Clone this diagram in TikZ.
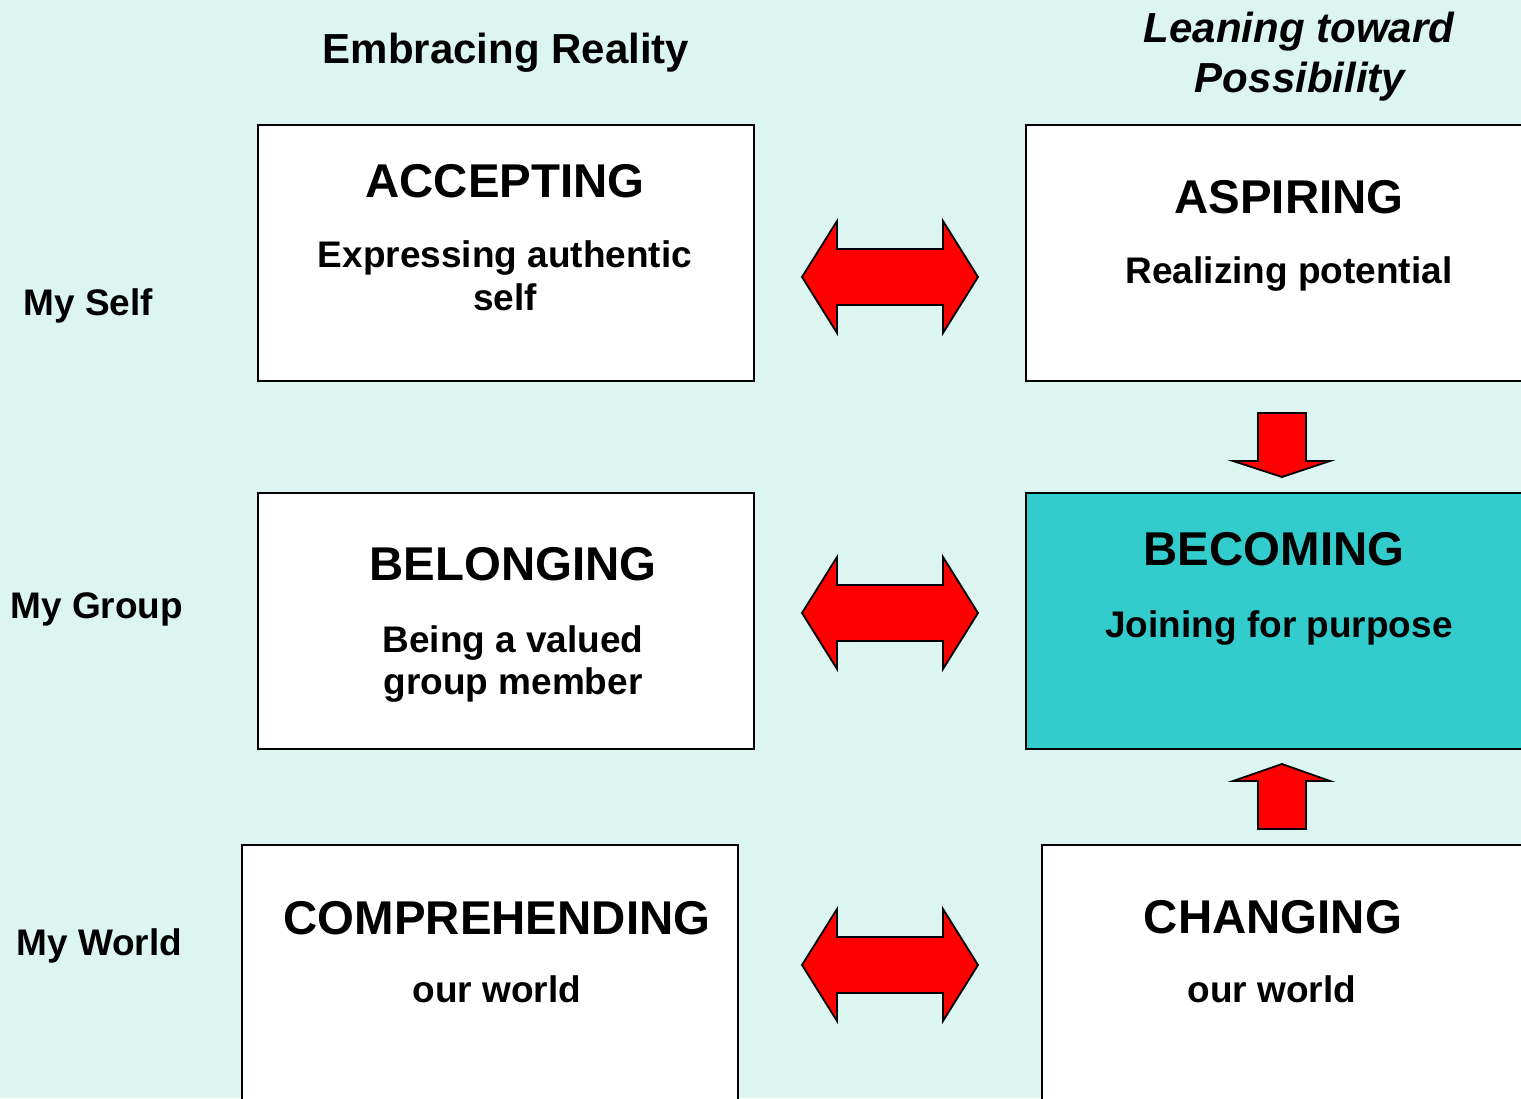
\documentclass[tikz,border=0pt]{standalone}
\usepackage{fontspec}
\setmainfont{Liberation Sans}
\usetikzlibrary{positioning}
\definecolor{bgmint}{RGB}{221,245,240}
\definecolor{tealbox}{RGB}{51,204,204}
\tikzset{
box/.style={ % Frame of each stage
draw,
line width=1pt,
fill=white,
inner sep=0pt,
minimum width=248pt,
minimum height=128pt},
title/.style={font=\fontsize{23.7}{28}\selectfont\bfseries, anchor=base},
sub/.style={font=\fontsize{18.5}{22}\selectfont\bfseries, anchor=base},
rowlabel/.style={font=\fontsize{18.5}{22}\selectfont\bfseries, anchor=base west, inner sep=0pt},
colhead/.style={font=\fontsize{21}{25}\selectfont\bfseries, anchor=base},
bigarrow/.style={ % Red block arrows
draw,
fill=red,
line width=0.9pt}}

\begin{document}
\begin{tikzpicture}[x=0.5pt, y=-0.5pt]
	\useasboundingbox (0,0) rectangle (1521,1098);
	\clip (0,0) rectangle (1521,1098);
	\fill[bgmint] (0,0) rectangle (1521,1098);
	% column heads
	\node[colhead] (real) at (506,63) {Embracing Reality};
	\node[colhead, font=\fontsize{21}{25}\selectfont\bfseries\itshape] (lean) at (1299,42) {Leaning toward};
	\node[colhead, font=\fontsize{21}{25}\selectfont\bfseries\itshape] (poss) at (1300,92) {Possibility};
	% row labels
	\node[rowlabel] (self) at (23,315) {My Self};
	\node[rowlabel] (group) at (10,618) {My Group};
	\node[rowlabel] (world) at (16,955) {My World};
	% boxes
	\node[box] (accept) at (506,253) {};
	\node[box, minimum width=252pt] (aspire) at (1278,253) {};
	\node[box] (belong) at (506,621) {};
	\node[box, minimum width=252pt, fill=tealbox] (become) at (1278,621) {};
	\node[box, minimum height=130pt] (compr) at (490,975) {};
	\node[box, minimum width=244pt, minimum height=130pt] (change) at (1286,975) {};
	% texts in boxes
	\node[title] (acceptT) at (505,197) {ACCEPTING};
	\node[sub] (acceptS) at (505,267) {Expressing authentic};
	\node[sub] (acceptS2) at (505,310) {self};
	\node[title] (aspireT) at (1289,213) {ASPIRING};
	\node[sub] (aspireS) at (1289,283) {Realizing potential};
	\node[title] (belongT) at (513,580) {BELONGING};
	\node[sub] (belongS) at (513,652) {Being a valued};
	\node[sub] (belongS2) at (513,694) {group member};
	\node[title] (becomeT) at (1274,565) {BECOMING};
	\node[sub] (becomeS) at (1279,637) {Joining for purpose};
	\node[title] (comprT) at (497,934) {COMPREHENDING};
	\node[sub] (comprS) at (497,1002) {our world};
	\node[title] (changeT) at (1273,933) {CHANGING};
	\node[sub] (changeS) at (1272,1002) {our world};
	% double arrows
	\draw[bigarrow] (802,277) -- ++(35,-56) -- ++(0,28) -- ++(106,0) -- ++(0,-28) -- ++(35,56)
		-- ++(-35,56) -- ++(0,-28) -- ++(-106,0) -- ++(0,28) -- cycle;
	\draw[bigarrow] (802,613) -- ++(35,-56) -- ++(0,28) -- ++(106,0) -- ++(0,-28) -- ++(35,56)
		-- ++(-35,56) -- ++(0,-28) -- ++(-106,0) -- ++(0,28) -- cycle;
	\draw[bigarrow] (802,965) -- ++(35,-56) -- ++(0,28) -- ++(106,0) -- ++(0,-28) -- ++(35,56)
		-- ++(-35,56) -- ++(0,-28) -- ++(-106,0) -- ++(0,28) -- cycle;
	% arrows into BECOMING
	\draw[bigarrow] (1258,413) -- (1306,413) -- (1306,461) -- (1330,461) -- (1282,477)
		-- (1233,461) -- (1258,461) -- cycle;
	\draw[bigarrow] (1258,829) -- (1306,829) -- (1306,781) -- (1330,781) -- (1282,764)
		-- (1233,781) -- (1258,781) -- cycle;
\end{tikzpicture}
\end{document}
